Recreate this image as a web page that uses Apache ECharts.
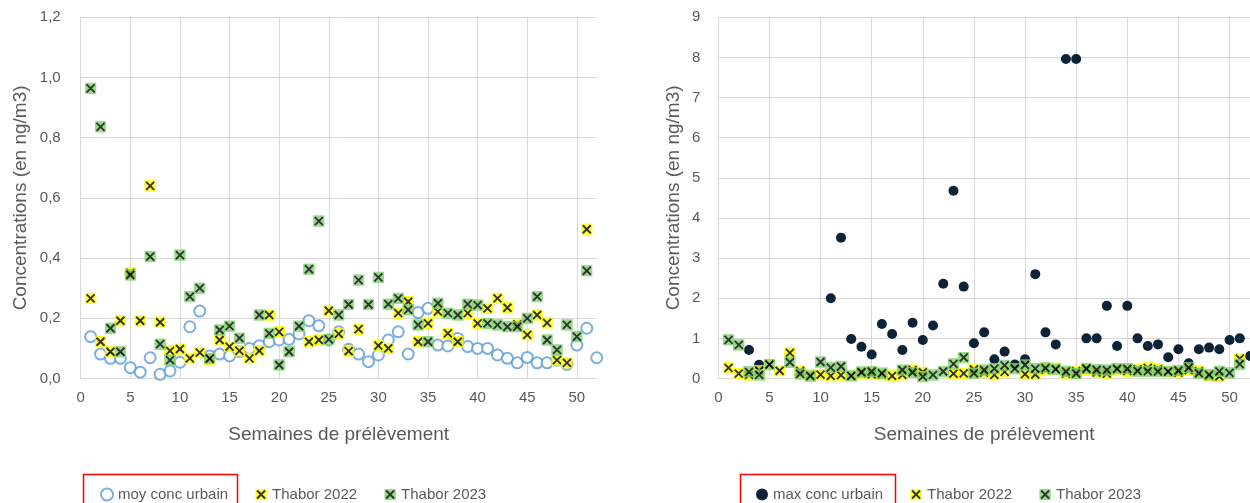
<!DOCTYPE html>
<html>
<head>
<meta charset="utf-8">
<script src="https://cdn.jsdelivr.net/npm/echarts@6/dist/echarts.min.js"></script>
<style>
html,body{margin:0;padding:0;background:#fff;}
#chart{width:1250px;height:503px;}
</style>
</head>
<body>
<div id="chart"></div>
<script>
const weeks = [1,2,3,4,5,6,7,8,9,10,11,12,13,14,15,16,17,18,19,20,21,22,23,24,25,26,27,28,29,30,31,32,33,34,35,36,37,38,39,40,41,42,43,44,45,46,47,48,49,50,51,52];
const moyConcUrbain = [0.139,0.081,0.067,0.067,0.036,0.021,0.069,0.014,0.025,0.054,0.172,0.224,0.075,0.081,0.075,0.090,0.100,0.109,0.122,0.128,0.130,0.148,0.192,0.175,0.128,0.155,0.097,0.081,0.056,0.078,0.128,0.155,0.081,0.219,0.233,0.111,0.108,0.133,0.106,0.100,0.100,0.078,0.067,0.052,0.070,0.052,0.052,0.061,0.047,0.111,0.167,0.069];
const maxConcUrbain = [null,null,0.71,0.34,null,null,null,null,null,null,2.00,3.51,0.985,0.79,0.60,1.36,1.11,0.71,1.39,0.96,1.32,2.36,4.68,2.29,0.88,1.15,0.48,0.67,0.35,0.48,2.60,1.15,0.85,7.96,7.96,1.00,1.00,1.81,0.81,1.81,1.00,0.81,0.85,0.53,0.73,0.38,0.73,0.77,0.73,0.96,1.00,0.56];
const thabor2022 = [0.266,0.122,0.089,0.192,0.351,0.192,0.640,0.187,0.092,0.098,0.067,0.086,0.064,0.128,0.106,0.092,0.067,0.092,0.211,0.155,null,null,0.122,0.128,0.225,0.148,0.091,0.164,null,0.109,0.100,0.217,0.255,0.122,0.183,0.222,0.150,0.122,0.217,0.183,0.233,0.266,0.235,0.180,0.145,0.211,0.185,0.061,0.052,null,0.496,null];
const thabor2023 = [0.964,0.836,0.167,0.089,0.344,null,0.405,0.114,0.061,0.410,0.272,0.300,0.067,0.161,0.174,0.134,null,0.211,0.150,0.045,0.089,0.174,0.363,0.523,0.130,0.211,0.246,0.327,0.246,0.336,0.247,0.266,0.228,0.178,0.122,0.250,0.217,0.211,0.247,0.244,0.183,0.178,0.172,0.172,0.200,0.272,0.128,0.095,0.178,0.139,0.358,null];
const seriesNames = ['moy conc urbain','max conc urbain','Thabor 2022','Thabor 2023'];
const xTitle = 'Semaines de prélèvement';
const yTitle = 'Concentrations (en ng/m3)';

function pairs(arr){ const out=[]; weeks.forEach((w,i)=>{ if(arr[i]!==null) out.push([w,arr[i]]); }); return out; }
function xSym(fill){
  const svg = '<svg xmlns="http://www.w3.org/2000/svg" width="24" height="24" viewBox="0 0 24 24"><rect x="0.5" y="0.5" width="23" height="23" fill="'+fill+'"/><path d="M4 4L20 20M20 4L4 20" stroke="#000" stroke-width="3.8"/></svg>';
  return 'image://data:image/svg+xml;utf8,' + encodeURIComponent(svg);
}
const yellowX = xSym('#FFFF00');
const greenX = xSym('#7ED36F');
const txt = '#595959';
const grid = '#D9D9D9';
const FONT = 'Liberation Sans';

function xAxis(gi){
  return {type:'value', gridIndex:gi, min:0, max:52, interval:5,
    name:xTitle, nameLocation:'middle', nameGap:47,
    nameTextStyle:{color:txt, fontSize:19, fontFamily:FONT},
    axisLine:{show:true, lineStyle:{color:grid, width:1}},
    axisTick:{show:false},
    axisLabel:{color:txt, fontSize:15, fontFamily:FONT, margin:12, showMaxLabel:false},
    splitLine:{show:true, showMaxLine:false, lineStyle:{color:grid, width:1}}};
}
function yAxis(gi, max, interval, fmt, gap, margin){
  return {type:'value', gridIndex:gi, min:0, max:max, interval:interval,
    name:yTitle, nameLocation:'middle', nameGap:gap, nameRotate:90,
    nameTextStyle:{color:txt, fontSize:19, fontFamily:FONT},
    axisLine:{show:false}, axisTick:{show:false},
    axisLabel:{color:txt, fontSize:15, fontFamily:FONT, margin:margin, formatter:fmt},
    splitLine:{show:true, lineStyle:{color:grid, width:1}}};
}
const chart = echarts.init(document.getElementById('chart'), null, {renderer:'canvas'});
chart.setOption({
  animation:false,
  backgroundColor:'#fff',
  grid:[
    {left:80.7, top:17.3, right:653.3, bottom:124.5},
    {left:718.3, top:17.3, right:0, bottom:124.5}
  ],
  xAxis:[xAxis(0), xAxis(1)],
  yAxis:[
    yAxis(0, 1.2, 0.2, v=>v.toFixed(1).replace('.',','), 50, 20),
    yAxis(1, 9, 1, v=>String(Math.round(v)), 35, 18)
  ],
  legend:[
    {data:[seriesNames[0],seriesNames[2],seriesNames[3]], left:95, top:482, itemWidth:12, itemHeight:12, itemGap:27,
     textStyle:{color:txt, fontSize:15, fontFamily:FONT}},
    {data:[seriesNames[1],seriesNames[2],seriesNames[3]], left:751, top:482, itemWidth:12, itemHeight:12, itemGap:27,
     textStyle:{color:txt, fontSize:15, fontFamily:FONT}}
  ],
  graphic:[
    {type:'rect', shape:{x:83.5, y:474.5, width:154, height:40}, style:{fill:'none', stroke:'#FF0000', lineWidth:1.5}, z:100},
    {type:'rect', shape:{x:740.5, y:474.5, width:155, height:40}, style:{fill:'none', stroke:'#FF0000', lineWidth:1.5}, z:100}
  ],
  series:[
    {name:seriesNames[0], type:'scatter', xAxisIndex:0, yAxisIndex:0, data:pairs(moyConcUrbain),
     symbol:'emptyCircle', symbolSize:11, itemStyle:{color:'#5B9BD5', borderColor:'#5B9BD5', borderWidth:3}},
    {name:seriesNames[2], type:'scatter', xAxisIndex:0, yAxisIndex:0, data:pairs(thabor2022),
     symbol:yellowX, symbolSize:12, itemStyle:{color:'#FFFF00'}},
    {name:seriesNames[3], type:'scatter', xAxisIndex:0, yAxisIndex:0, data:pairs(thabor2023),
     symbol:greenX, symbolSize:12, itemStyle:{color:'#7ED36F'}},
    {name:seriesNames[1], type:'scatter', xAxisIndex:1, yAxisIndex:1, data:pairs(maxConcUrbain),
     symbol:'circle', symbolSize:10, itemStyle:{color:'#0C2238', opacity:1}},
    {name:seriesNames[2], type:'scatter', xAxisIndex:1, yAxisIndex:1, data:pairs(thabor2022),
     symbol:yellowX, symbolSize:12, itemStyle:{color:'#FFFF00'}},
    {name:seriesNames[3], type:'scatter', xAxisIndex:1, yAxisIndex:1, data:pairs(thabor2023),
     symbol:greenX, symbolSize:12, itemStyle:{color:'#7ED36F'}}
  ]
});
</script>
</body>
</html>
